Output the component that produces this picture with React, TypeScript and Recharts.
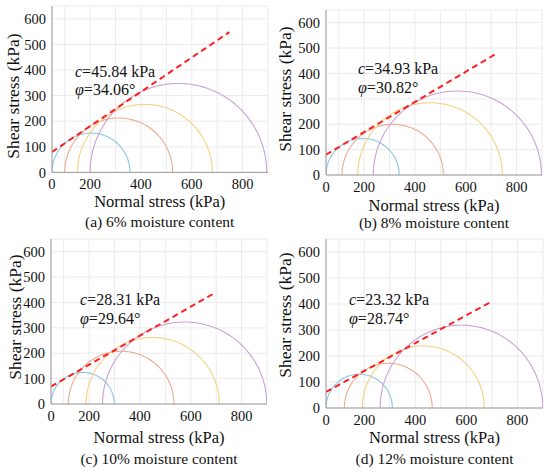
import React from 'react';
import { CartesianGrid, Line, LineChart, XAxis, YAxis } from 'recharts';

// Mohr circles of four moisture contents (kPa)
const CAPTIONS = [
  '(a) 6% moisture content',
  '(b) 8% moisture content',
  '(c) 10% moisture content',
  '(d) 12% moisture content',
];
const COHESION = ['45.84', '34.93', '28.31', '23.32'];
const FRICTION = ['34.06', '30.82', '29.64', '28.74'];

// minor principal stress (left end) and major principal stress (right end) of each circle
const SIGMA3 = [
  [50, 100, 150, 200],
  [50, 113, 175, 236],
  [50, 118, 188, 253],
  [50, 122, 192, 262],
];
const SIGMA1 = [
  [357, 525, 681, 895],
  [338, 512, 744, 898],
  [299, 534, 712, 899],
  [310, 466, 670, 899],
];

// failure envelope, [sigma, tau] at both ends of the dashed line
const ENVELOPE_START = [
  [50, 80],
  [50, 80],
  [50, 69],
  [50, 62],
];
const ENVELOPE_END = [
  [748, 548],
  [715, 475],
  [699, 440],
  [692, 406],
];

// the reference labels its left edge "0" although the grid puts it at 50
const X_TICKS = [50, 100, 200, 300, 400, 500, 600, 700, 800];
const X_TICK_LABELS: Record<number, string> = { 50: '0', 200: '200', 400: '400', 600: '600', 800: '800' };
const Y_TICKS = [0, 100, 200, 300, 400, 500, 600];

const CIRCLE_COLORS = ['#8cc6e8', '#eeaa92', '#f6d183', '#c9a2d6'];
const ENVELOPE_COLOR = '#ff1f1f';
const FONT = "'Liberation Serif', 'DejaVu Serif', 'Noto Serif', 'Times New Roman', Times, serif";

// plot box of every panel in page pixels
const LAYOUT = [
  { left: 51.7, top: 5.6, w: 216, h: 166.4, annX: 75, annY: 71.7, titleY: 201.5, capY: 222, yTitleX: 13, yTitleY: 96 },
  { left: 326, top: 10, w: 216, h: 165, annX: 358, annY: 69, titleY: 206, capY: 223, yTitleX: 285, yTitleY: 89 },
  { left: 51, top: 238.5, w: 216, h: 165, annX: 80, annY: 300.3, titleY: 437.5, capY: 459, yTitleX: 15, yTitleY: 317 },
  { left: 326, top: 238.5, w: 217, h: 169, annX: 349, annY: 300.3, titleY: 438, capY: 459, yTitleX: 285, yTitleY: 315 },
];

const Y_AXIS_W = 50;
const M_TOP = 6;
const M_RIGHT = 8;
const X_AXIS_H = 26;

function semicircle(s3: number, s1: number) {
  const c = (s1 + s3) / 2;
  const r = (s1 - s3) / 2;
  const pts = [];
  for (let i = 0; i <= 90; i++) {
    const t = Math.PI - (Math.PI * i) / 90;
    pts.push({ x: c + r * Math.cos(t), y: r * Math.sin(t) });
  }
  return pts;
}

function Panel({ idx }: { idx: number }) {
  const lay = LAYOUT[idx];
  const circles = SIGMA3[idx].map((s3, k) => semicircle(s3, SIGMA1[idx][k]));
  const envelope = [
    { x: ENVELOPE_START[idx][0], y: ENVELOPE_START[idx][1] },
    { x: ENVELOPE_END[idx][0], y: ENVELOPE_END[idx][1] },
  ];
  const chartW = lay.w + Y_AXIS_W + M_RIGHT;
  const chartH = lay.h + M_TOP + X_AXIS_H;
  const centerX = lay.left + lay.w / 2;

  return (
    <>
      <div style={{ position: 'absolute', left: lay.left - Y_AXIS_W, top: lay.top - M_TOP }}>
        <LineChart width={chartW} height={chartH} margin={{ top: M_TOP, right: M_RIGHT, left: 0, bottom: 0 }}>
          <CartesianGrid stroke="#ebebeb" strokeWidth={1} />
          <XAxis
            type="number"
            dataKey="x"
            domain={[50, 900]}
            ticks={X_TICKS}
            tickFormatter={(v: number) => X_TICK_LABELS[v] ?? ''}
            allowDataOverflow
            height={X_AXIS_H}
            tickLine={false}
            tickSize={3}
            tickMargin={3.5}
            axisLine={{ stroke: '#9a9a9a' }}
            tick={{ fill: '#111', fontSize: 14.5, fontFamily: FONT }}
            interval={0}
          />
          <YAxis
            type="number"
            domain={[0, 650]}
            ticks={Y_TICKS}
            allowDataOverflow
            width={Y_AXIS_W}
            tickLine={false}
            tickSize={4}
            tickMargin={2}
            axisLine={{ stroke: '#9a9a9a' }}
            tick={{ fill: '#111', fontSize: 14.5, fontFamily: FONT }}
            interval={0}
          />
          {circles.map((pts, k) => (
            <Line
              key={k}
              data={pts}
              dataKey="y"
              type="linear"
              stroke={CIRCLE_COLORS[k]}
              strokeWidth={1.1}
              dot={false}
              activeDot={false}
              isAnimationActive={false}
            />
          ))}
          <Line
            data={envelope}
            dataKey="y"
            type="linear"
            stroke={ENVELOPE_COLOR}
            strokeWidth={2}
            strokeDasharray="6 4"
            dot={false}
            activeDot={false}
            isAnimationActive={false}
          />
        </LineChart>
      </div>

      <div style={{ position: 'absolute', left: lay.annX, top: lay.annY - 9, fontSize: 16, lineHeight: '18px', whiteSpace: 'nowrap' }}>
        <i>c</i>={COHESION[idx]} kPa
      </div>
      <div style={{ position: 'absolute', left: lay.annX, top: lay.annY + 9.5, fontSize: 16, lineHeight: '18px', whiteSpace: 'nowrap' }}>
        <i>φ</i>={FRICTION[idx]}°
      </div>

      <div
        style={{
          position: 'absolute',
          left: centerX - 100,
          width: 200,
          top: lay.titleY - 9,
          lineHeight: '18px',
          fontSize: 16.5,
          textAlign: 'center',
          whiteSpace: 'nowrap',
        }}
      >
        Normal stress (kPa)
      </div>
      <div
        style={{
          position: 'absolute',
          left: lay.yTitleX - 100,
          width: 200,
          top: lay.yTitleY - 10,
          lineHeight: '20px',
          fontSize: 17.5,
          textAlign: 'center',
          whiteSpace: 'nowrap',
          transform: 'rotate(-90deg)',
        }}
      >
        Shear stress (kPa)
      </div>
      <div
        style={{
          position: 'absolute',
          left: centerX - 125,
          width: 250,
          top: lay.capY - 9,
          lineHeight: '18px',
          fontSize: 15.5,
          textAlign: 'center',
          whiteSpace: 'nowrap',
        }}
      >
        {CAPTIONS[idx]}
      </div>
    </>
  );
}

export default function App() {
  return (
    <div
      style={{
        position: 'absolute',
        left: 0,
        top: 0,
        width: 550,
        height: 474,
        background: '#fff',
        fontFamily: FONT,
        color: '#111',
        overflow: 'hidden',
      }}
    >
      {CAPTIONS.map((_, i) => (
        <Panel key={i} idx={i} />
      ))}
    </div>
  );
}
